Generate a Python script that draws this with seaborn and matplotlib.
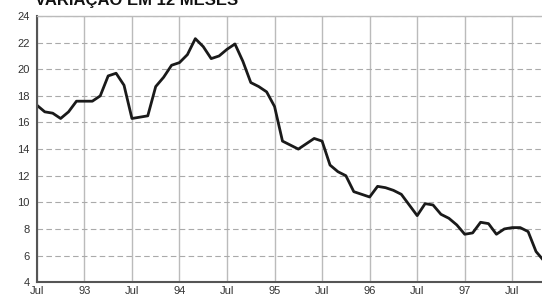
import numpy as np
import pandas as pd
import matplotlib
matplotlib.use("Agg")
import matplotlib.pyplot as plt
import seaborn as sns

# monthly values, Jul 1992 .. Nov 1997 (12-month change, %)
months = pd.date_range("1992-07-01", "1997-11-01", freq="MS")
values = [
    17.3, 16.8, 16.7, 16.3, 16.8, 17.6,            # Jul-Dec 92
    17.6, 17.6, 18.0, 19.5, 19.7, 18.8,            # Jan-Jun 93
    16.3, 16.4, 16.5, 18.7, 19.4, 20.3,            # Jul-Dec 93
    20.5, 21.1, 22.3, 21.7, 20.8, 21.0,            # Jan-Jun 94
    21.5, 21.9, 20.6, 19.0, 18.7, 18.3,            # Jul-Dec 94
    17.2, 14.6, 14.3, 14.0, 14.4, 14.8,            # Jan-Jun 95
    14.6, 12.8, 12.3, 12.0, 10.8, 10.6,            # Jul-Dec 95
    10.4, 11.2, 11.1, 10.9, 10.6, 9.8,             # Jan-Jun 96
    9.0, 9.9, 9.8, 9.1, 8.8, 8.3,                  # Jul-Dec 96
    7.6, 7.7, 8.5, 8.4, 7.6, 8.0,                  # Jan-Jun 97
    8.1, 8.1, 7.8, 6.3, 5.6,                       # Jul-Nov 97
]
xtick_labels = ["Jul", "93", "Jul", "94", "Jul", "95", "Jul", "96", "Jul", "97", "Jul"]
yticks = [4, 6, 8, 10, 12, 14, 16, 18, 20, 22, 24]
title = "VARIAÇÃO EM 12 MESES"

df = pd.DataFrame({"month": np.arange(len(values)), "value": values})

sns.set_style("white")
plt.rcParams["font.family"] = ["Liberation Sans", "DejaVu Sans"]

fig = plt.figure(figsize=(5.42, 2.97), dpi=100)
ax = fig.add_axes([0.068, 0.05, 0.94, 0.896])

sns.lineplot(data=df, x="month", y="value", color="#1a1a1a", linewidth=2.0, ax=ax)

ax.set_xlim(0, 64.3)
ax.set_ylim(4, 24)
ax.set_yticks(yticks)
ax.set_yticklabels([str(v) for v in yticks], fontsize=8, color="#333333")
ax.set_xticks(np.arange(0, 61, 6))
ax.set_xticklabels(xtick_labels, fontsize=8, color="#333333")
ax.set_xticks(np.arange(0, 65, 1), minor=True)
ax.tick_params(axis="x", which="minor", direction="in", length=2.5, color="#666666", width=0.8)
ax.tick_params(axis="x", which="major", direction="in", length=0, pad=3)
ax.tick_params(axis="y", which="major", direction="out", length=3, color="#666666", pad=2)

ax.set_xlabel("")
ax.set_ylabel("")

ax.grid(axis="y", color="#aaaaaa", linestyle=(0, (5, 3)), linewidth=0.8)
ax.grid(axis="x", color="#bbbbbb", linestyle="-", linewidth=1.0)
ax.set_axisbelow(True)

for side in ["left", "bottom"]:
    ax.spines[side].set_color("#555555")
    ax.spines[side].set_linewidth(1.5)
ax.spines["top"].set_color("#bbbbbb")
ax.spines["top"].set_linewidth(1.0)
ax.spines["right"].set_visible(False)

fig.text(0.065, 0.982, title, fontsize=12, fontweight="bold", color="#111111",
         va="baseline", ha="left")

fig.savefig("out.png", dpi=100)
